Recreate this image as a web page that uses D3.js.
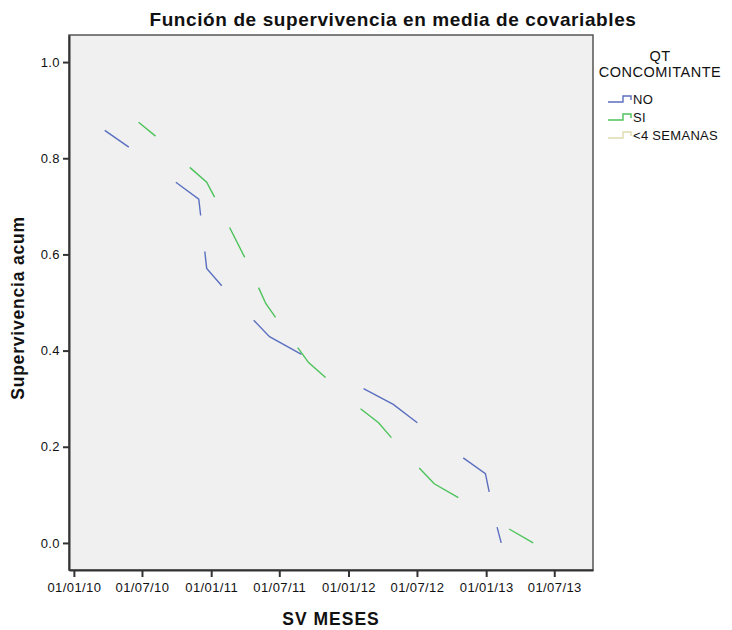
<!DOCTYPE html>
<html>
<head>
<meta charset="utf-8">
<script src="https://cdn.jsdelivr.net/npm/d3@7"></script>
<style>
  body { margin: 0; background: #fff; }
  text { font-family: "Liberation Sans", Arial, sans-serif; fill: #111; }
</style>
</head>
<body>
<svg id="chart"></svg>
<script>
// survival at mean of covariates, visible dashes of each curve
let noSegments = [
  [["2010-03-24", 0.858], ["2010-05-27", 0.823]],
  [["2010-09-29", 0.750], ["2010-11-29", 0.715], ["2010-12-04", 0.681]],
  [["2010-12-15", 0.606], ["2010-12-20", 0.571], ["2011-01-29", 0.535]],
  [["2011-04-24", 0.463], ["2011-06-05", 0.429], ["2011-08-29", 0.392]],
  [["2012-02-10", 0.321], ["2012-04-29", 0.288], ["2012-07-02", 0.250]],
  [["2012-11-01", 0.177], ["2012-12-30", 0.144], ["2013-01-09", 0.106]],
  [["2013-01-30", 0.033], ["2013-02-10", 0.000]]
];
let siSegments = [
  [["2010-06-22", 0.875], ["2010-08-06", 0.846]],
  [["2010-11-05", 0.781], ["2010-12-20", 0.750], ["2011-01-10", 0.719]],
  [["2011-02-19", 0.656], ["2011-03-31", 0.594]],
  [["2011-05-07", 0.531], ["2011-05-26", 0.498], ["2011-06-21", 0.469]],
  [["2011-08-19", 0.406], ["2011-09-17", 0.375], ["2011-11-01", 0.344]],
  [["2012-02-02", 0.279], ["2012-03-21", 0.250], ["2012-04-24", 0.219]],
  [["2012-07-07", 0.156], ["2012-08-16", 0.123], ["2012-10-19", 0.094]],
  [["2013-03-03", 0.029], ["2013-05-06", 0.000]]
];
let groups = ["NO", "SI", "<4 SEMANAS"];
let groupColors = ["#5b6fc0", "#4cc35a", "#e0dcb0"];
let yTicks = [0.0, 0.2, 0.4, 0.6, 0.8, 1.0];
let xTicks = ["2010-01-01", "2010-07-01", "2011-01-01", "2011-07-01",
              "2012-01-01", "2012-07-01", "2013-01-01", "2013-07-01"];

let width = 732, height = 630;
let margin = {top: 35, right: 139, bottom: 60, left: 69};
let plotW = width - margin.left - margin.right;
let plotH = height - margin.top - margin.bottom;

let parse = d3.timeParse("%Y-%m-%d");

let svg = d3.select("#chart").attr("width", width).attr("height", height);

let x = d3.scaleTime()
  .domain([parse("2009-12-19"), parse("2013-10-12")])
  .range([0, plotW]);
let y = d3.scaleLinear()
  .domain([-0.0563, 1.0563])
  .range([plotH, 0]);

let g = svg.append("g").attr("transform", `translate(${margin.left},${margin.top})`);

g.append("rect")
  .attr("width", plotW).attr("height", plotH)
  .attr("fill", "#f0f0f0")
  .attr("stroke", "#555").attr("stroke-width", 1.5);

let line = d3.line()
  .x(d => x(parse(d[0])))
  .y(d => y(d[1]));

[noSegments, siSegments].forEach((segs, i) => {
  g.selectAll("path.s" + i)
    .data(segs)
    .enter().append("path")
    .attr("class", "s" + i)
    .attr("d", line)
    .attr("fill", "none")
    .attr("stroke", groupColors[i])
    .attr("stroke-width", 1.4);
});

// axes
let yAxis = d3.axisLeft(y).tickValues(yTicks).tickFormat(d3.format(".1f")).tickSize(6).tickSizeOuter(0);
let xAxis = d3.axisBottom(x).tickValues(xTicks.map(parse)).tickFormat(d3.timeFormat("%d/%m/%y")).tickSize(7).tickSizeOuter(0);

let ya = g.append("g").call(yAxis);
let xa = g.append("g").attr("transform", `translate(0,${plotH})`).call(xAxis);
[ya, xa].forEach(a => {
  a.select(".domain").attr("stroke", "#333").attr("stroke-width", 2);
  a.selectAll(".tick line").attr("stroke", "#333").attr("stroke-width", 2);
  a.selectAll(".tick text").attr("font-size", 13).attr("fill", "#222")
    .style("letter-spacing", "0.4px")
    .style("font-family", "'Liberation Sans', Arial, sans-serif");
});
ya.selectAll(".tick text").attr("x", -9);
xa.selectAll(".tick text").attr("y", 13);

// titles
svg.append("text")
  .attr("x", 393).attr("y", 26)
  .attr("text-anchor", "middle")
  .attr("font-size", 19).attr("font-weight", "bold")
  .style("letter-spacing", "0.6px")
  .text("Función de supervivencia en media de covariables");

svg.append("text")
  .attr("x", 331).attr("y", 625)
  .attr("text-anchor", "middle")
  .attr("font-size", 17.5).attr("font-weight", "bold")
  .style("letter-spacing", "1px")
  .text("SV MESES");

svg.append("text")
  .attr("transform", "translate(24,308) rotate(-90)")
  .attr("text-anchor", "middle")
  .attr("font-size", 17.5).attr("font-weight", "bold")
  .style("letter-spacing", "0.8px")
  .text("Supervivencia acum");

// legend
let leg = svg.append("g");
leg.append("text").attr("x", 660).attr("y", 61).attr("text-anchor", "middle")
  .attr("font-size", 14.5).style("letter-spacing", "0.5px").text("QT");
leg.append("text").attr("x", 660).attr("y", 77).attr("text-anchor", "middle")
  .attr("font-size", 14.5).style("letter-spacing", "0.5px").text("CONCOMITANTE");

let item = leg.selectAll("g.item").data(groups).enter().append("g")
  .attr("class", "item")
  .attr("transform", (d, i) => `translate(608,${99 + i * 18})`);
item.append("path")
  .attr("d", "M0,3H15V-3H23V1")
  .attr("fill", "none")
  .attr("stroke", (d, i) => groupColors[i])
  .attr("stroke-width", 1.4);
item.append("text")
  .attr("x", 25).attr("y", 5)
  .attr("font-size", 13)
  .style("letter-spacing", "0.3px")
  .text(d => d);
</script>
</body>
</html>
